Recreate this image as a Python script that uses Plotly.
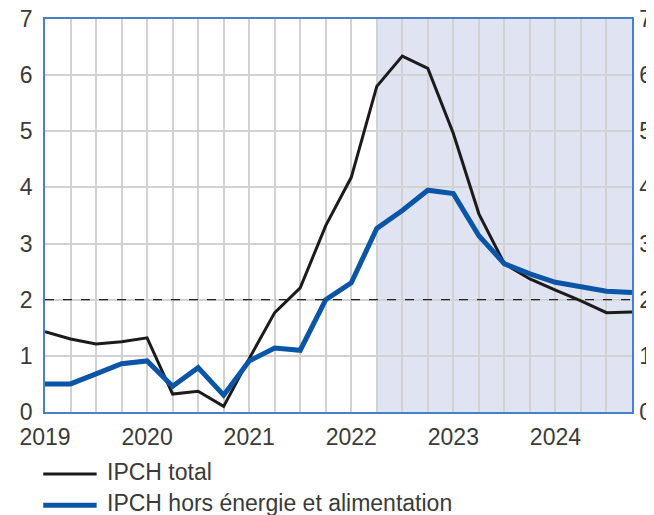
import plotly.graph_objects as go

# Quarterly periods 2019Q1 .. 2024Q4 (as decimal years)
years = [2019, 2020, 2021, 2022, 2023, 2024]
quarters = [y + q / 4 for y in years for q in range(4)]

ipch_total = [1.43, 1.30, 1.21, 1.25, 1.32, 0.32, 0.37, 0.10,
              0.95, 1.77, 2.21, 3.32, 4.18, 5.80, 6.34, 6.12,
              4.96, 3.53, 2.64, 2.37, 2.17, 1.98, 1.77, 1.78]
ipch_core = [0.50, 0.50, 0.68, 0.86, 0.91, 0.46, 0.79, 0.30,
             0.91, 1.14, 1.10, 2.00, 2.30, 3.27, 3.59, 3.95,
             3.89, 3.14, 2.64, 2.46, 2.31, 2.22, 2.15, 2.13]

series_names = ["IPCH total", "IPCH hors énergie et alimentation"]
y_ticks = [0, 1, 2, 3, 4, 5, 6, 7]
x_tick_labels = [str(y) for y in years]
projection_start = 2022.25
target = 2

FONT = "Liberation Sans, Arial, sans-serif"
TXT = "#3a3a3a"
FRAME = "#4a80c8"
GRID = "#d2d2d2"
BLACK = "#1b1b1b"
BLUE = "#0a55a5"

fig = go.Figure()
fig.add_trace(go.Scatter(x=quarters, y=ipch_total, mode="lines", name=series_names[0],
                         line=dict(color=BLACK, width=3), showlegend=False))
fig.add_trace(go.Scatter(x=quarters, y=ipch_core, mode="lines", name=series_names[1],
                         line=dict(color=BLUE, width=5), showlegend=False))
# invisible trace to anchor right axis
fig.add_trace(go.Scatter(x=quarters, y=ipch_core, mode="lines", yaxis="y2",
                         line=dict(color="rgba(0,0,0,0)", width=0), showlegend=False,
                         hoverinfo="skip"))

# projection shading
fig.add_shape(type="rect", xref="x", yref="paper", x0=projection_start, x1=quarters[-1],
              y0=0, y1=1, fillcolor="#dfe3f2", line=dict(width=0), layer="below")
# target dashed line
fig.add_shape(type="line", xref="paper", yref="y", x0=0, x1=1, y0=target, y1=target,
              line=dict(color="#222222", width=1.2, dash="dash"))

# manual legend
leg_y = [-0.158, -0.237]
leg_col = [BLACK, BLUE]
leg_w = [3, 5]
for i in range(2):
    fig.add_shape(type="line", xref="paper", yref="paper", x0=-0.003, x1=0.088,
                  y0=leg_y[i], y1=leg_y[i], line=dict(color=leg_col[i], width=leg_w[i]))
    fig.add_annotation(xref="paper", yref="paper", x=0.102, y=leg_y[i] + 0.005,
                       text=series_names[i], showarrow=False, xanchor="left", yanchor="middle",
                       font=dict(family=FONT, size=23, color=TXT))

axis_common = dict(range=[0, 7], tickvals=y_ticks, ticks="", showline=True, linecolor=FRAME,
                   linewidth=1.5, tickfont=dict(family=FONT, size=23, color=TXT),
                   zeroline=False, fixedrange=True, automargin=False,
                   ticklabeloverflow="allow")

# page body has an 8px default margin, so the figure is offset by 8px
fig.update_layout(
    width=654, height=507,
    margin=dict(l=37, r=30, t=11, b=103),
    paper_bgcolor="white", plot_bgcolor="white",
    xaxis=dict(range=[quarters[0], quarters[-1]], tickvals=years, ticktext=x_tick_labels,
               ticks="", showline=True, linecolor=FRAME, linewidth=1.5, mirror=True,
               showgrid=True, gridcolor=GRID, gridwidth=1.5, zeroline=False, automargin=False,
               ticklabeloverflow="allow",
               minor=dict(dtick=0.25, tick0=2019, showgrid=True, gridcolor=GRID, gridwidth=1.5),
               tickfont=dict(family=FONT, size=23, color=TXT), ticklabelstandoff=4),
    yaxis=dict(**axis_common, showgrid=True, gridcolor=GRID, gridwidth=1.5, mirror=True,
               ticklabelstandoff=6),
    yaxis2=dict(**axis_common, overlaying="y", side="right", showgrid=False,
                ticklabelstandoff=1),
)

fig.write_html("out.html")
